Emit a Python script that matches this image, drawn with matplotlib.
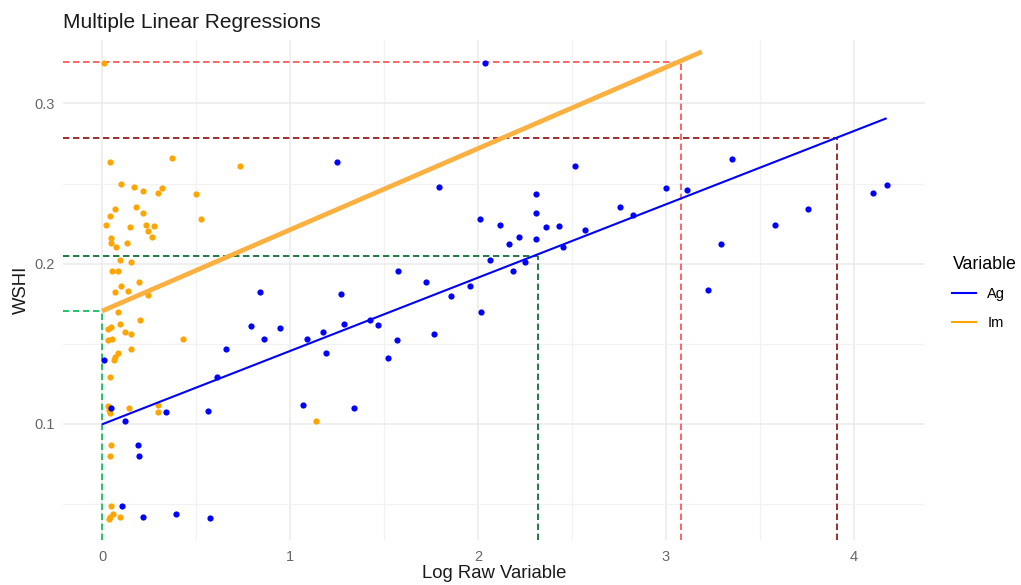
import matplotlib
matplotlib.use("Agg")
import matplotlib.pyplot as plt
from matplotlib.lines import Line2D

plt.rcParams['font.family'] = ['Liberation Sans', 'DejaVu Sans']
plt.rcParams['lines.scale_dashes'] = False

# ---------------- data ----------------
ag_x = [0.011, 0.048, 0.122, 0.34, 0.562, 0.19, 0.197, 0.108, 0.216, 0.395, 0.572,
        0.61, 0.658, 0.794, 0.842, 0.862, 0.945, 1.067, 1.089, 1.174, 1.19, 1.25,
        1.27, 1.285, 1.338, 1.426, 1.468, 1.521, 1.569, 1.574, 1.723, 1.764, 1.794,
        1.855, 1.956, 2.01, 2.016, 2.039, 2.064, 2.119, 2.167, 2.188, 2.22, 2.248,
        2.309, 2.309, 2.309, 2.364, 2.429, 2.452, 2.518, 2.567, 2.757, 2.824, 3.001,
        3.11, 3.225, 3.294, 3.349, 3.58, 3.757, 4.103, 4.177]
ag_y = [0.140, 0.1098, 0.1017, 0.1073, 0.1081, 0.0869, 0.0802, 0.0487, 0.0422, 0.0437, 0.0413,
        0.1295, 0.1466, 0.1611, 0.1826, 0.153, 0.1597, 0.1119, 0.153, 0.1574, 0.1441, 0.2633,
        0.1811, 0.1626, 0.1098, 0.1649, 0.1618, 0.1414, 0.1522, 0.1957, 0.1884, 0.156, 0.2479,
        0.1801, 0.1863, 0.2281, 0.1701, 0.325, 0.2023, 0.2244, 0.2125, 0.1957, 0.2169, 0.2009,
        0.2435, 0.2317, 0.2154, 0.2227, 0.2236, 0.2105, 0.2612, 0.2209, 0.2354, 0.2304, 0.2473,
        0.2458, 0.1834, 0.2125, 0.2656, 0.2241, 0.234, 0.2442, 0.2493]

im_x = [0.012, 0.04, 0.37, 0.734, 0.10, 0.17, 0.218, 0.32, 0.30, 0.50, 0.18, 0.069,
        0.04, 0.218, 0.021, 0.15, 0.232, 0.278, 0.245, 0.525, 0.047, 0.264, 0.048,
        0.074, 0.135, 0.094, 0.155, 0.052, 0.087, 0.199, 0.10, 0.067, 0.136, 0.246,
        0.082, 0.204, 0.048, 0.032, 0.096, 0.122, 0.156, 0.055, 0.032, 0.429, 0.156,
        0.087, 0.069, 0.066, 0.043, 0.03, 0.043, 0.038, 0.144, 0.296, 0.30, 1.14,
        0.05, 0.041, 0.05, 0.044, 0.057, 0.039, 0.096]
im_y = [0.325, 0.2635, 0.266, 0.261, 0.2496, 0.248, 0.2456, 0.2475, 0.244, 0.2437, 0.2354, 0.234,
        0.230, 0.2317, 0.2244, 0.223, 0.2244, 0.2235, 0.2206, 0.228, 0.216, 0.2169, 0.2131,
        0.2106, 0.2128, 0.2023, 0.2009, 0.1957, 0.1957, 0.1884, 0.1861, 0.1826, 0.1832, 0.1805,
        0.1699, 0.1649, 0.1607, 0.1595, 0.1622, 0.1576, 0.156, 0.153, 0.1526, 0.153, 0.1466,
        0.1441, 0.142, 0.140, 0.1295, 0.111, 0.107, 0.109, 0.1098, 0.112, 0.1077, 0.1017,
        0.0869, 0.0802, 0.0487, 0.0422, 0.0437, 0.041, 0.0422]

# fitted regression lines
fit_groups = ['Ag', 'Im']
fit_intercept = [0.0998, 0.1705]
fit_slope = [0.04576, 0.0507]
fit_xmax = [4.174, 3.19]

# reference (prediction) lines
ref_x = [0.0, 2.317, 3.08, 3.908]
ref_y = [0.1705, 0.2048, 0.3257, 0.2787]

# ---------------- styling ----------------
pt_colors = {'Ag': '#0000FF', 'Im': '#FFA500'}
fit_colors = {'Ag': '#0000FF', 'Im': '#FBB040'}
fit_widths = {'Ag': 1.5, 'Im': 3.4}
ref_colors = ['#22C46A', '#1F7A45', '#FF6464', '#A02C2C']

fig = plt.figure(figsize=(10.21, 5.85), dpi=100)
ax = fig.add_axes([0.0617, 0.0769, 0.906 - 0.0617, 0.9316 - 0.0769])

xlim = (-0.208, 4.378)
ylim = (0.0276, 0.3396)
ax.set_xlim(*xlim)
ax.set_ylim(*ylim)

# grid
ax.set_xticks([0, 1, 2, 3, 4])
ax.set_xticks([0.5, 1.5, 2.5, 3.5], minor=True)
ax.set_yticks([0.1, 0.2, 0.3])
ax.set_yticks([0.05, 0.15, 0.25], minor=True)
ax.set_xticklabels(['0', '1', '2', '3', '4'])
ax.set_yticklabels(['0.1', '0.2', '0.3'])
ax.grid(True, which='major', color='#EBEBEB', linewidth=1.1)
ax.grid(True, which='minor', color='#F2F2F2', linewidth=0.9)
ax.set_axisbelow(True)
for s in ax.spines.values():
    s.set_visible(False)
ax.tick_params(which='both', length=0, labelsize=10.5, colors='#666666', pad=6)
ax.tick_params(axis='x', pad=7)

# reference dashed lines
for xv, yv, c in zip(ref_x, ref_y, ref_colors):
    ax.plot([xlim[0], xv], [yv, yv], color=c, lw=1.4, dashes=(4.6, 2.6), zorder=2)
    ax.plot([xv, xv], [ylim[0], yv], color=c, lw=1.4, dashes=(4.6, 2.6), zorder=2)

# points
ax.scatter(im_x, im_y, s=20, color=pt_colors['Im'], linewidths=0, zorder=3)
ax.scatter(ag_x, ag_y, s=20, color=pt_colors['Ag'], linewidths=0, zorder=3)

# fitted lines
for g, b0, b1, xm in zip(fit_groups, fit_intercept, fit_slope, fit_xmax):
    ax.plot([0, xm], [b0, b0 + b1 * xm], color=fit_colors[g], lw=fit_widths[g],
            solid_capstyle='butt', zorder=4)

ax.set_xlabel('Log Raw Variable', fontsize=13.3, color='#1A1A1A', labelpad=1)
ax.set_ylabel('WSHI', fontsize=13.3, color='#1A1A1A', labelpad=3)
fig.text(0.0617, 0.962, 'Multiple Linear Regressions', fontsize=15, color='#1A1A1A',
         ha='left', va='center')

handles = [Line2D([], [], color=pt_colors[g], lw=1.5) for g in fit_groups]
leg = fig.legend(handles, fit_groups, title='Variable', loc='upper left',
                 bbox_to_anchor=(0.92, 0.585), frameon=False, fontsize=10.5,
                 title_fontsize=12.8, handlelength=1.6, handletextpad=0.8,
                 labelspacing=1.0)
leg._legend_box.align = 'left'

fig.savefig('out.png', dpi=100)
